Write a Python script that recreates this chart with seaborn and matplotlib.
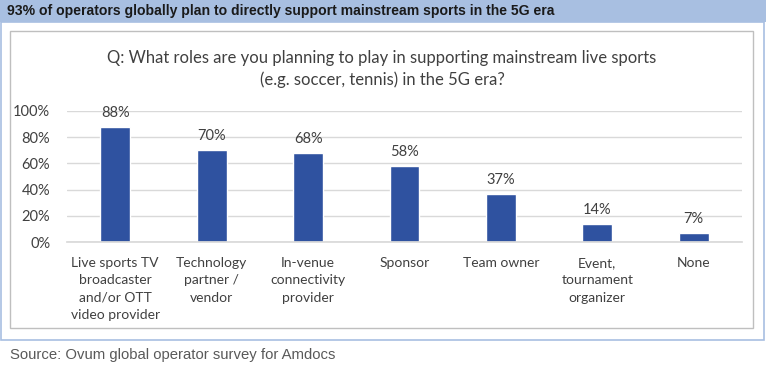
import matplotlib
matplotlib.use("Agg")
import matplotlib.pyplot as plt
import seaborn as sns
import pandas as pd
from matplotlib.patches import Rectangle
from matplotlib.ticker import PercentFormatter

categories = ["Live sports TV\nbroadcaster\nand/or OTT\nvideo provider",
              "Technology\npartner /\nvendor",
              "In-venue\nconnectivity\nprovider",
              "Sponsor",
              "Team owner",
              "Event,\ntournament\norganizer",
              "None"]
values = [88, 70, 68, 58, 37, 14, 7]
yticks = [0, 20, 40, 60, 80, 100]

df = pd.DataFrame({"role": categories, "pct": values})

sns.set_theme(style="white")
plt.rcParams['font.family'] = ['Lato', 'DejaVu Sans']

W, H = 766, 371
fig = plt.figure(figsize=(W/100, H/100), dpi=100)

# header band
fig.patches.append(Rectangle((0, 1 - 22/H), 1, 22/H, transform=fig.transFigure,
                             facecolor="#a8bfe1", edgecolor="none", zorder=0))
# outer light-blue box
fig.patches.append(Rectangle((1/W, 1 - 340/H), (W - 3)/W, (340 - 22)/H, transform=fig.transFigure,
                             facecolor="none", edgecolor="#a8bfe1", linewidth=1.2, zorder=0))
# inner gray box
fig.patches.append(Rectangle((10/W, 1 - 328/H), (753 - 10)/W, (328 - 31)/H, transform=fig.transFigure,
                             facecolor="none", edgecolor="#bfbfbf", linewidth=1.0, zorder=0))

fig.text(7/W, 1 - 11/H, "93% of operators globally plan to directly support mainstream sports in the 5G era",
         family="Liberation Sans", fontweight="bold", fontsize=10.1, color="#1a1a1a", va="center", ha="left")
fig.text(382/W, 1 - 69/H, "Q: What roles are you planning to play in supporting mainstream live sports\n(e.g. soccer, tennis) in the 5G era?",
         fontsize=12, color="#404040", ha="center", va="center", linespacing=1.45)
fig.text(10/W, 1 - 355/H, "Source: Ovum global operator survey for Amdocs",
         family="Liberation Sans", fontsize=10.7, color="#595959", ha="left", va="center")

ax = fig.add_axes([67/W, 129/H, 675/W, 131/H])
sns.barplot(data=df, x="role", y="pct", color="#2f52a0", width=0.31, ax=ax, saturation=1)
ax.set_ylim(0, 100)
ax.set_yticks(yticks)
ax.yaxis.set_major_formatter(PercentFormatter(decimals=0))
ax.grid(axis="y", color="#d9d9d9", linewidth=1)
ax.set_axisbelow(True)
for s in ["top", "right", "left"]:
    ax.spines[s].set_visible(False)
ax.spines["bottom"].set_color("#d9d9d9")
ax.set_xlabel("")
ax.set_ylabel("")
ax.tick_params(axis="y", length=0, labelsize=10.5, labelcolor="#404040", pad=12)
ax.tick_params(axis="x", length=0, labelsize=10, labelcolor="#404040", pad=11)
for lbl in ax.get_xticklabels():
    lbl.set_va("top")
    lbl.set_linespacing(1.52)
for c in ax.containers:
    ax.bar_label(c, labels=[f"{v}%" for v in values], padding=5, fontsize=10.5, color="#404040")
ax.patch.set_alpha(0)

fig.savefig("out.png", dpi=100)
